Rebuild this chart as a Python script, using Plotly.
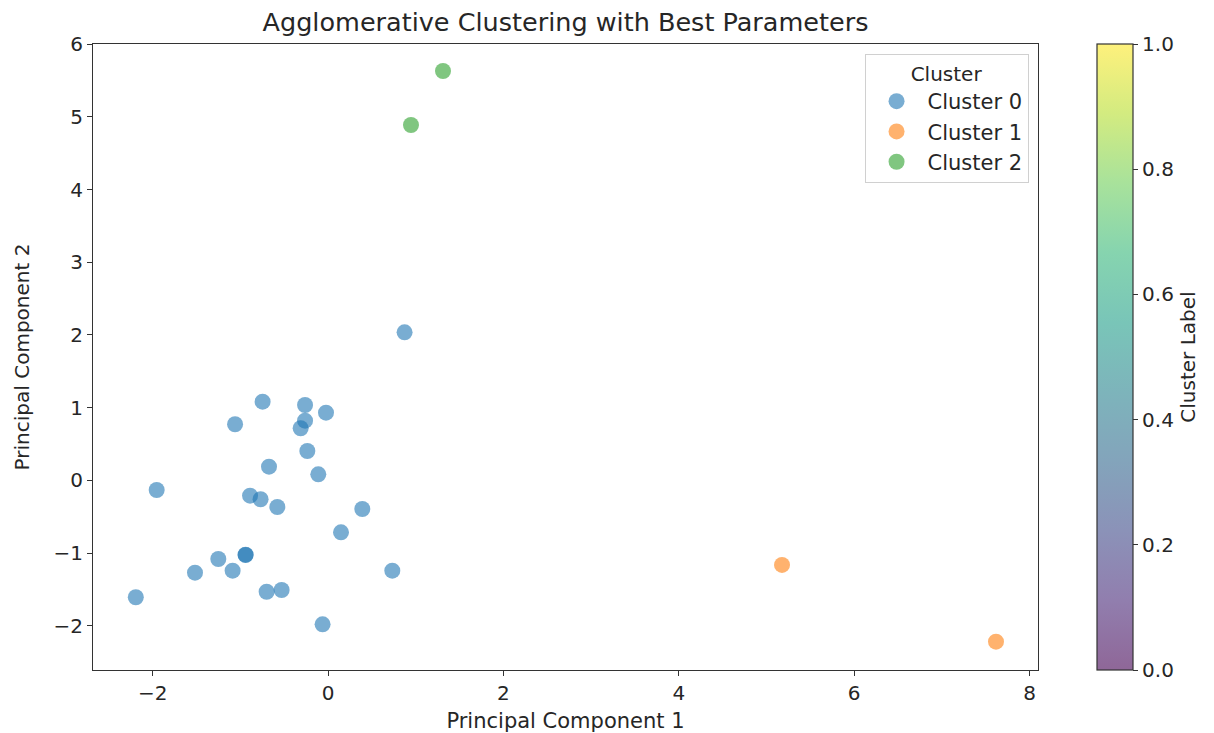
import plotly.graph_objects as go
from plotly.colors import sequential, hex_to_rgb

# PCA coordinates of each sample, grouped by agglomerative cluster label
cluster0_pc1 = [-0.746, -0.262, -0.023, -1.060, -0.262, -0.312, -0.236, -0.673,
                -0.111, -1.954, -0.889, -0.769, -0.578, 0.391, 0.148, -0.940,
                -0.940, -1.251, -1.517, -1.088, 0.733, -0.700, -0.529, -2.192,
                -0.062, 0.873]
cluster0_pc2 = [1.083, 1.038, 0.932, 0.773, 0.822, 0.718, 0.405, 0.190,
                0.085, -0.131, -0.209, -0.258, -0.364, -0.392, -0.712, -1.024,
                -1.020, -1.079, -1.267, -1.240, -1.240, -1.529, -1.505, -1.605,
                -1.977, 2.037]
cluster1_pc1 = [5.177, 7.617]
cluster1_pc2 = [-1.161, -2.216]
cluster2_pc1 = [1.311, 0.946]
cluster2_pc2 = [5.629, 4.887]

cluster_names = ["Cluster 0", "Cluster 1", "Cluster 2"]
cluster_colors = ["#1f77b4", "#ff7f0e", "#2ca02c"]
colorbar_ticks = [0.0, 0.2, 0.4, 0.6, 0.8, 1.0]

FONT = "DejaVu Sans"
TEXT = "#262626"
ALPHA = 0.6


def faded(rgb, alpha=ALPHA):
    # viridis colour as it appears at the given alpha over a white background
    r, g, b = rgb
    return "rgb({:.0f},{:.0f},{:.0f})".format(
        r * alpha + 255 * (1 - alpha),
        g * alpha + 255 * (1 - alpha),
        b * alpha + 255 * (1 - alpha),
    )


vir = sequential.Viridis
faded_viridis = [[i / (len(vir) - 1), faded(hex_to_rgb(c))] for i, c in enumerate(vir)]

fig = go.Figure()

series = [
    (cluster0_pc1, cluster0_pc2),
    (cluster1_pc1, cluster1_pc2),
    (cluster2_pc1, cluster2_pc2),
]
for (xs, ys), name, color in zip(series, cluster_names, cluster_colors):
    fig.add_trace(go.Scatter(
        x=xs, y=ys, mode="markers", name=name,
        marker=dict(size=16, color=color, opacity=ALPHA, line=dict(width=0)),
    ))

# colour bar for the cluster label scale
fig.add_trace(go.Scatter(
    x=[cluster0_pc1[0]], y=[cluster0_pc2[0]], mode="markers",
    showlegend=False, hoverinfo="skip",
    marker=dict(
        size=1, opacity=0, color=[0], cmin=0, cmax=1,
        colorscale=faded_viridis, showscale=True,
        colorbar=dict(
            x=1.0624, xanchor="left", xpad=0,
            y=0.5, yanchor="middle", ypad=0,
            len=1, lenmode="fraction", thickness=36,
            outlinecolor="#333333", outlinewidth=1.2,
            ticks="outside", ticklen=5, tickcolor="#333333",
            tickvals=colorbar_ticks, tickformat=".1f",
            tickfont=dict(family=FONT, size=20, color=TEXT),
            title=dict(text="Cluster Label", side="right",
                       font=dict(family=FONT, size=20, color=TEXT)),
        ),
    ),
))

axis_common = dict(
    showgrid=False, zeroline=False, automargin=False,
    showline=True, linecolor="#333333", linewidth=1.2, mirror=True,
    ticks="outside", ticklen=5, tickcolor="#333333",
    tickfont=dict(family=FONT, size=20, color=TEXT),
)

fig.update_layout(
    width=1214, height=733,
    margin=dict(l=93, r=176, t=44, b=63),
    plot_bgcolor="white", paper_bgcolor="white",
    font=dict(family=FONT, color=TEXT),
    title=dict(text="Agglomerative Clustering with Best Parameters",
               x=(93 + 1038) / 2 / 1214, xanchor="center",
               y=1 - 22 / 733, yanchor="middle",
               font=dict(family=FONT, size=25.5, color=TEXT)),
    xaxis=dict(axis_common, range=[-2.68, 8.096], tickvals=[-2, 0, 2, 4, 6, 8],
               ticktext=["\u22122", "0", "2", "4", "6", "8"],
               title=dict(text="Principal Component 1", standoff=10,
                          font=dict(family=FONT, size=21, color=TEXT))),
    yaxis=dict(axis_common, range=[-2.605, 6.0],
               tickvals=[-2, -1, 0, 1, 2, 3, 4, 5, 6],
               ticktext=["\u22122", "\u22121", "0", "1", "2", "3", "4", "5", "6"],
               title=dict(text="Principal Component 2", standoff=18,
                          font=dict(family=FONT, size=20, color=TEXT))),
    legend=dict(
        x=0.99, xanchor="right", y=0.984, yanchor="top",
        bgcolor="rgba(255,255,255,0.8)", bordercolor="#d0d0d0", borderwidth=1,
        font=dict(family=FONT, size=21, color=TEXT),
        title=dict(text="Cluster", side="top center",
                   font=dict(family=FONT, size=20, color=TEXT)),
        itemsizing="trace", itemwidth=52,
    ),
)

fig.write_html("out.html")
